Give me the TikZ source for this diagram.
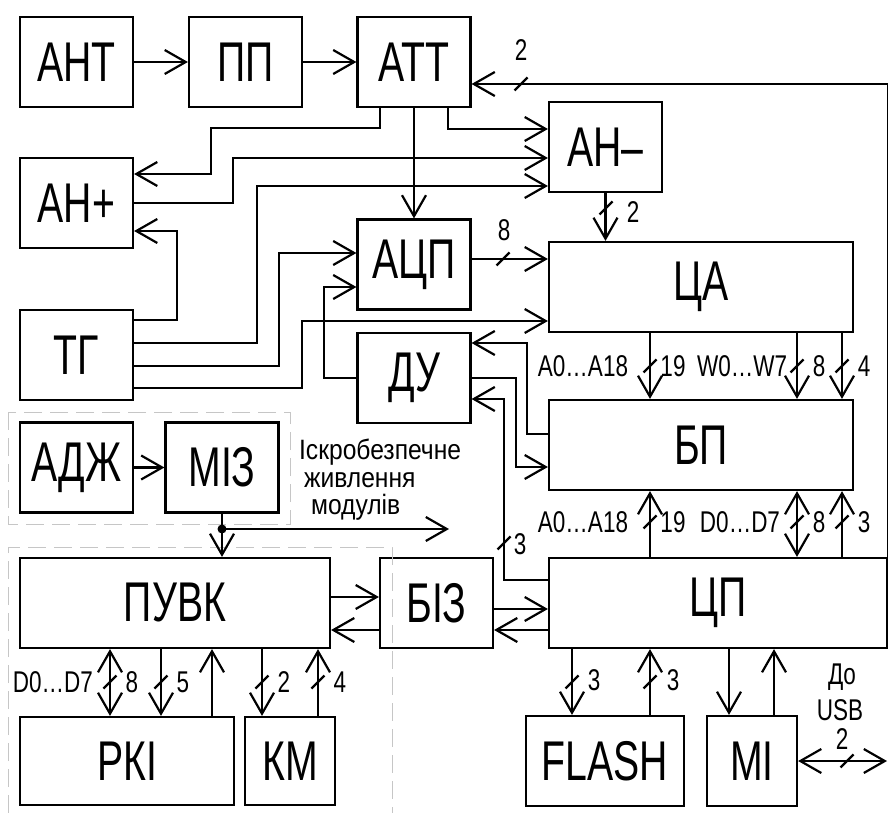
\documentclass[tikz,border=0pt]{standalone}
\usepackage{fontspec}
\setmainfont{Liberation Sans}[FakeStretch=0.75]
\newfontfamily\boxfont{Liberation Sans}[FakeStretch=0.7]
\newfontfamily\notefont{Liberation Sans}[FakeStretch=0.88]
\usetikzlibrary{arrows.meta}
\newcommand{\busmark}[1]{\draw (#1) ++(-6.5,6.5) -- ++(13,-13);}

\begin{document}
\begin{tikzpicture}[x=1pt, y=-1pt, line width=2.2pt,
    >={Straight Barb[length=21pt,width=24pt]},
    blk/.style={draw, inner sep=0pt, minimum width=113pt, minimum height=90pt,
        font=\boxfont\fontsize{56}{56}\selectfont},
    lbl/.style={inner sep=0pt, font=\fontsize{30}{30}\selectfont},
    note/.style={inner sep=0pt, anchor=base west, font=\notefont\fontsize{28}{28}\selectfont},
    zone/.style={draw=gray!45, line width=1pt, dash pattern=on 18pt off 8pt}]
    \useasboundingbox (0,0) rectangle (888,813);

    % Blocks
    \node[blk] (ant) at (76.5,62) {АНТ};
    \node[blk] (pp) at (245.5,62) {ПП};
    \node[blk] (att) at (414,62) {АТТ};
    \node[blk] (anp) at (76.5,203) {АН+};
    \node[blk] (anm) at (605.5,147) {АН–};
    \node[blk] (adc) at (414,264.5) {АЦП};
    \node[blk] (tg) at (76.5,355) {ТГ};
    \node[blk, minimum width=304pt] (ca) at (701,287) {ЦА};
    \node[blk] (du) at (414,378) {ДУ};
    \node[blk, minimum width=304pt] (bp) at (701,445) {БП};
    \node[blk] (adzh) at (76.5,467.5) {АДЖ};
    \node[blk] (miz) at (222,467.5) {МІЗ};
    \node[blk, minimum width=310pt] (puvk) at (175,603) {ПУВК};
    \node[blk] (biz) at (436.5,603) {БІЗ};
    \node[blk, minimum width=338pt] (cp) at (718,603) {ЦП};
    \node[blk, minimum width=214pt, minimum height=88pt] (pki) at (127,761) {РКІ};
    \node[blk, minimum width=90pt, minimum height=88pt] (km) at (290,761) {КМ};
    \node[blk, minimum width=158pt] (flash) at (605,761) {FLASH};
    \node[blk, minimum width=90pt] (mi) at (752,761) {МІ};

    % Dashed zones
    \draw[zone] (8,412) rectangle (290,524);
    \draw[zone] (8,813) -- (8,547) -- (392,547) -- (392,813);

    % Input chain
    \draw[->] (ant) -- (pp);
    \draw[->] (pp) -- (att);

    % Feedback CP -> ATT
    \draw[->] (cp.north east) |- (att.east |- 0,84);
    \busmark{521,84}
    \node[lbl] (n2a) at (521,50) {2};

    % ATT outputs
    \draw[->] (att.south -| 380,0) |- (211,128) |- (anp.east |- 0,174);
    \draw[->] (att.south) -- (adc.north);
    \draw[->] (att.south -| 448,0) |- (anm.west |- 0,129);
    \draw[->] (anp.east) -| (233,158) -- (anm.west |- 0,158);

    % TG outputs
    \draw[->] (tg.east |- 0,320) -| (177,231) -- (anp.east |- 0,231);
    \draw[->] (tg.east |- 0,343) -| (257,186) -- (anm.west |- 0,186);
    \draw[->] (tg.east |- 0,366) -| (279,253) -- (adc.west |- 0,253);
    \draw[->] (tg.east |- 0,388) -| (302,321) -- (ca.west |- 0,321);

    % DU -> ADC, ADC -> CA, AN- -> CA
    \draw[->] (du.west) -| (324,287) -- (adc.west |- 0,287);
    \draw[->] (adc.east |- 0,259) -- (ca.west |- 0,259);
    \busmark{503,259}
    \node[lbl] (n8a) at (504,230) {8};
    \draw[->] (anm.south) -- (ca.north -| anm.south);
    \busmark{606,208}
    \node[lbl] (n2b) at (633,212) {2};

    % CA -> BP buses
    \foreach \x in {650,797,842} {
        \draw[->] (ca.south -| \x,0) -- (bp.north -| \x,0);
        \busmark{\x,366}
    }
    \node[lbl] (aca) at (583,366) {A0…A18};
    \node[lbl] (n19a) at (673,366) {19};
    \node[lbl] (wca) at (742,366) {W0…W7};
    \node[lbl] (n8b) at (819,366) {8};
    \node[lbl] (n4a) at (864,366) {4};

    % BP <-> CP buses
    \draw[<-] (bp.south -| 650,0) -- (cp.north -| 650,0);
    \draw[<->] (bp.south -| 797,0) -- (cp.north -| 797,0);
    \draw[<-] (bp.south -| 842,0) -- (cp.north -| 842,0);
    \foreach \x in {650,797,842} {\busmark{\x,522}}
    \node[lbl] (acp) at (583,522) {A0…A18};
    \node[lbl] (n19b) at (673,522) {19};
    \node[lbl] (dcp) at (740,522) {D0…D7};
    \node[lbl] (n8c) at (819,522) {8};
    \node[lbl] (n3a) at (864,522) {3};

    % DU links
    \draw[->] (bp.west |- 0,434) -| (527,343) -- (du.east |- 0,343);
    \draw[->] (du.east) -| (516,467) -- (bp.west |- 0,467);
    \draw[->] (cp.west |- 0,580) -| (504,399) -- (du.east |- 0,399);
    \busmark{504,543}
    \node[lbl] (n3b) at (520,544) {3};

    % Power supply
    \draw[->] (adzh) -- (miz);
    \coordinate (pwr) at (miz.south |- 0,529);
    \coordinate (pwrend) at (449,529);
    \draw[->] (miz.south) -- (puvk.north -| miz.south);
    \fill (pwr) circle (4.5pt);
    \draw[->] (pwr) -- (pwrend);
    \node[note] (isk) at (298,459) {Іскробезпечне};
    \node[note] (zhyv) at (303,487) {живлення};
    \node[note] (mod) at (310,514) {модулів};

    % PUVK <-> BIZ <-> CP
    \draw[->] (puvk.east |- 0,597) -- (biz.west |- 0,597);
    \draw[->] (biz.west |- 0,630) -- (puvk.east |- 0,630);
    \draw[->] (biz.east |- 0,609) -- (cp.west |- 0,609);
    \draw[->] (cp.west |- 0,630) -- (biz.east |- 0,630);

    % PUVK <-> RKI, KM
    \draw[<->] (puvk.south -| 110,0) -- (pki.north -| 110,0);
    \draw[->] (puvk.south -| 161,0) -- (pki.north -| 161,0);
    \draw[<-] (puvk.south -| 212,0) -- (pki.north -| 212,0);
    \draw[->] (puvk.south -| 262,0) -- (km.north -| 262,0);
    \draw[<-] (puvk.south -| 318,0) -- (km.north -| 318,0);
    \foreach \x in {110,161,262,318} {\busmark{\x,682}}
    \node[lbl] (dpk) at (53,682) {D0…D7};
    \node[lbl] (n8d) at (132,682) {8};
    \node[lbl] (n5) at (183,682) {5};
    \node[lbl] (n2c) at (284,682) {2};
    \node[lbl] (n4b) at (340,682) {4};

    % CP <-> FLASH, MI
    \draw[->] (cp.south -| 572,0) -- (flash.north -| 572,0);
    \draw[<-] (cp.south -| 650,0) -- (flash.north -| 650,0);
    \draw[->] (cp.south -| 729,0) -- (mi.north -| 729,0);
    \draw[<-] (cp.south -| 774,0) -- (mi.north -| 774,0);
    \busmark{572,682}
    \busmark{650,682}
    \node[lbl] (n3c) at (594,680) {3};
    \node[lbl] (n3d) at (673,680) {3};

    % MI <-> USB
    \coordinate (usb) at (887,761);
    \draw[<->] (mi.east) -- (usb);
    \busmark{847,761}
    \node[lbl] (do) at (842,677) {До};
    \node[lbl] (usbt) at (840,710) {USB};
    \node[lbl] (n2d) at (842,739) {2};
\end{tikzpicture}
\end{document}
